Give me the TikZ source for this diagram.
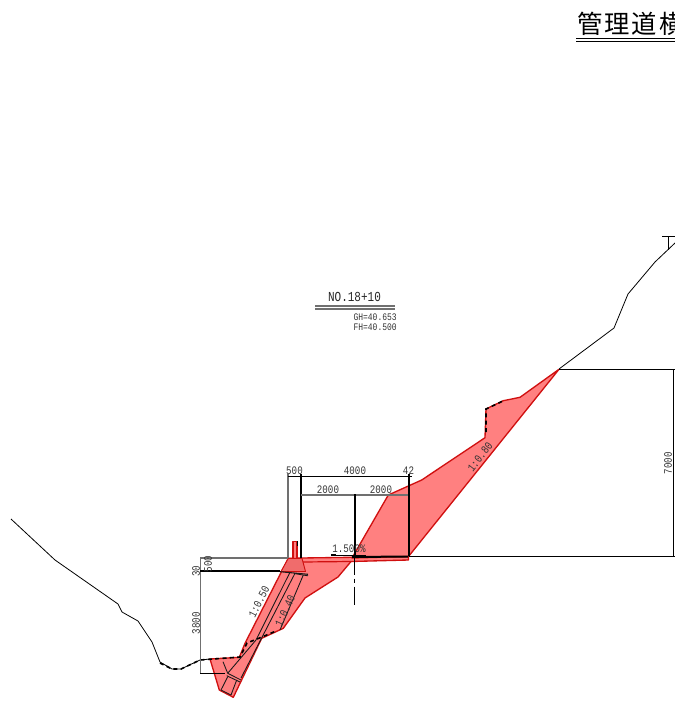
\documentclass[tikz,border=0pt]{standalone}
\usepackage{fontspec}
\setmainfont{Liberation Sans}
\newfontfamily\numfont[FakeStretch=0.8]{Liberation Mono}
\newfontfamily\cjkfont{Noto Sans CJK JP}
\definecolor{cutfill}{HTML}{FF8080}
\definecolor{blockfill}{HTML}{F06C6C}
\definecolor{cutline}{HTML}{D01010}
\definecolor{dimgray}{HTML}{707070}
\tikzset{
  cut/.style={fill=cutfill,draw=cutline,line width=1pt,line join=round},
  ground/.style={draw=black,line width=0.6pt},
  oldground/.style={draw=black,line width=1.2pt,dash pattern=on 3pt off 2.5pt},
  dimthin/.style={draw=black,line width=0.75pt},
  dimgrey/.style={draw=dimgray,line width=0.85pt},
  dimthick/.style={draw=black,line width=1.5pt},
  detail/.style={draw=black!90,line width=0.65pt},
  lab/.style={inner sep=0pt,text=black!80,font=\numfont\fontsize{8.6}{10}\selectfont},
  smalllab/.style={inner sep=0pt,text=black!80,font=\numfont\fontsize{7.5}{9}\selectfont}
}
\begin{document}
\begin{tikzpicture}[x=0.75pt,y=-0.75pt]
\useasboundingbox (0,0) rectangle (675,708);
\clip (0,0) rectangle (675,708);
% existing ground
\draw[ground] (11,519) -- (55,560) -- (118,604) -- (122,612) -- (138,621) -- (152,642) -- (160,662) -- (172,669) -- (181,669) -- (200,660) -- (210,659);
\draw[ground] (559,369) -- (614,328) -- (628,294) -- (655,262) -- (675,243);
\draw[ground] (668,250) -- (668,236);
\draw[ground] (662,236) -- (675,236);
% red cut and fill bodies
\draw[cut] (288.3,558.3) -- (245,643.3) -- (239.3,657.3) -- (210,659) -- (219.3,690) -- (233.3,697.3) -- (261.7,638.3) -- (283.3,628.3) -- (305,598) -- (338,577) -- (351,561.5) -- (408.5,560) -- (408.5,556.5) -- (301,558) -- cycle;
\draw[cut] (352,558) -- (388.3,495) -- (421.7,480) -- (485,437.7) -- (486,409) -- (503.3,400.7) -- (520,397.3) -- (559,369.3) -- (408.5,556.5) -- cycle;
\draw[cutline,line width=0.9pt] (302,562) -- (351,561.5);
% guard rail and base block
\draw[cut] (293,558) -- (293,541.5) -- (297,541.5) -- (297,558);
\draw[dimthin] (297.5,541) -- (297.5,546);
\draw[cut,line width=0.7pt,fill=blockfill] (288.3,558.3) -- (302,558.3) -- (305.5,571.5) -- (281,571.5) -- cycle;
% retaining structure details
\draw[detail,line width=0.8pt] (280,571.7) -- (308,574.3);
\draw[detail] (294,573.5) -- (308,575.8);
\draw[detail] (290,572.3) -- (256,640) -- (227.7,673.3);
\draw[detail] (295,573.3) -- (241,678);
\draw[detail] (303.3,575) -- (280,630);
\draw[detail] (227.7,673.3) -- (241,680);
\draw[detail] (226.7,675.7) -- (240,682);
\draw[detail] (221,690) -- (231,695);
\draw[detail] (223,661.7) -- (227.7,673.3);
\draw[detail] (227.7,676.7) -- (221,690);
\draw[detail] (236.7,680) -- (231,695);
% old ground dashes
\draw[oldground] (160,663) -- (172,669) -- (181,669) -- (200,660) -- (240,657) -- (247,643) -- (262,637) -- (276,631);
\draw[oldground] (486,432) -- (486,409) -- (503,401);
% vertical dimensions left
\draw[dimgrey] (200.7,558) -- (200.7,673);
\draw[dimgrey] (200,558) -- (288,558);
\draw[dimthick] (200,571) -- (280,571);
\draw[dimthin] (200,673) -- (225,673);
% top dimensions
\draw[dimgrey] (288,474) -- (288,558);
\draw[dimthick] (301,474) -- (301,558);
\draw[dimthick] (408.5,474) -- (408.5,556);
\draw[dimthin] (288,476) -- (412,476);
\draw[dimgrey] (301,495) -- (408,495);
\draw[dimthick] (354.5,494) -- (354.5,556);
\draw[draw=black,line width=0.7pt,dash pattern=on 14pt off 3pt on 3pt off 3pt] (354.5,556) -- (354.5,606);
% road slope mark
\draw[dimthin] (331,555) -- (366,555);
\draw[dimthick] (331,555) -- (336,555);
\draw[dimthick] (352,557) -- (408,556.5);
% right dimension
\draw[dimthin] (559,369) -- (675,369);
\draw[dimthin] (408.5,556) -- (675,556);
\draw[dimthin] (673.5,369) -- (673.5,556);
% labels
\node[lab] (d500) at (294.5,471) {500};
\node[lab] (d4000) at (355,471) {4000};
\node[lab] (d42) at (408.5,471) {42};
\node[lab] (d2000a) at (328,490) {2000};
\node[lab] (d2000b) at (381,490) {2000};
\node[lab] (slope) at (349,549) {1.500\%};
\node[lab,rotate=90] (d7000) at (668,463) {7000};
\node[lab,rotate=90] (d500v) at (208,564) {500};
\node[lab,rotate=90] (d30) at (196,571) {30};
\node[lab,rotate=90] (d3800) at (196,623) {3800};
\node[lab,rotate=63] (s50) at (259,602) {1:0.50};
\node[lab,rotate=65] (s40) at (285,611) {1:0.40};
\node[lab,rotate=52] (s80) at (480,457) {1:0.80};
% station label
\node[inner sep=0pt,text=black!85,font=\numfont\fontsize{10.3}{12}\selectfont] (no) at (354.5,297) {NO.18+10};
\draw[dimgrey] (315,306) -- (395,306);
\draw[dimgrey] (315,309) -- (395,309);
\node[smalllab,anchor=east] (gh) at (397,317.5) {GH=40.653};
\node[smalllab,anchor=east] (fh) at (397,327.5) {FH=40.500};
% title
\node[inner sep=0pt,anchor=west,text=black,font=\cjkfont\fontsize{19}{20}\selectfont] (title) at (577,24) {管\hspace{1.5pt}理\hspace{1.5pt}道\hspace{1.5pt}横};
\draw[line width=0.9pt] (576,38.5) -- (675,38.5);
\draw[line width=0.7pt] (576,41.5) -- (675,41.5);
\end{tikzpicture}
\end{document}
